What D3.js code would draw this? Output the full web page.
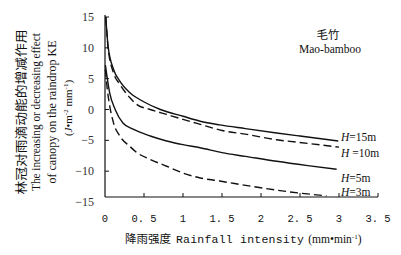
<!DOCTYPE html>
<html><head><meta charset="utf-8">
<script src="https://cdn.jsdelivr.net/npm/d3@7"></script>
<style>body{margin:0;background:#fff}svg{display:block}</style>
</head><body>
<svg id="c" width="401" height="255"></svg>
<script>
// ---- data ----
const seriesNames = ["H=15m", "H=10m", "H=5m", "H=3m"];
const labelH = ["H", "H ", "H", "H"];
const labelRest = ["=15m", "=10m", "=5m", "=3m"];
const h15x = [0.01,0.04,0.11,0.19,0.32,0.49,0.71,1.0,1.22,1.47,1.8,2.2,2.5,2.99];
const h15y = [15,10.2,6.5,4.6,2.7,1.3,0,-1.1,-1.9,-2.5,-3.1,-3.8,-4.3,-5.1];
const h10x = [0.01,0.04,0.11,0.19,0.32,0.41,0.58,0.79,1.0,1.22,1.5,1.8,2.2,2.6,3.0];
const h10y = [15,10,5.9,4.1,1.9,0.8,0,-0.8,-1.6,-2.4,-3.4,-4.0,-4.9,-5.5,-6.1];
const h5x = [0.005,0.06,0.13,0.23,0.36,0.58,0.79,1.0,1.22,1.5,1.8,2.2,2.6,2.97];
const h5y = [7.2,2.7,0,-2.2,-3.2,-4.3,-5.1,-5.7,-6.2,-7.0,-7.6,-8.4,-9.1,-9.7];
const h3x = [0.005,0.03,0.055,0.11,0.19,0.32,0.41,0.58,0.79,1.0,1.22,1.47,1.9,2.33,2.84];
const h3y = [6.5,3.2,1.0,-2.2,-4.3,-6.0,-7.0,-8.1,-9.2,-10.3,-11.1,-11.6,-12.5,-13.3,-14.0];
const xTicks = [0,0.5,1,1.5,2,2.5,3,3.5];
const xTickLabels = ["0","0. 5","1","1. 5","2","2. 5","3","3. 5"];
const yTicks = [15,10,5,0,-5,-10,-15];
const yTickLabels = ["15","10","5","0","\u22125","\u221210","\u221215"];
const seriesX = [h15x, h10x, h5x, h3x];
const seriesY = [h15y, h10y, h5y, h3y];
const dashed = [false, true, false, true];
const labelAt = [-4.5, -7.0, -11.1, -13.4];

// ---- drawing ----
const svg = d3.select("#c");
const x = d3.scaleLinear().domain([0,3.5]).range([105,378]);
const y = d3.scaleLinear().domain([-15,15]).range([202,17]);
const yAxisBottom = 197; // x axis line pixel position
const ink = "#111";

svg.append("line").attr("x1",x(0)).attr("x2",x(0)).attr("y1",15).attr("y2",yAxisBottom)
  .attr("stroke",ink).attr("stroke-width",1.2);
svg.append("line").attr("x1",x(0)).attr("x2",x(3.5)).attr("y1",yAxisBottom).attr("y2",yAxisBottom)
  .attr("stroke",ink).attr("stroke-width",1.2);
svg.selectAll(".xt").data(xTicks.slice(1)).enter().append("line")
  .attr("x1",d=>x(d)).attr("x2",d=>x(d)).attr("y1",yAxisBottom).attr("y2",yAxisBottom-4)
  .attr("stroke",ink).attr("stroke-width",1);
svg.selectAll(".xl").data(xTicks).enter().append("text")
  .attr("x",d=>x(d)).attr("y",222).attr("text-anchor","middle")
  .attr("font-family","Liberation Mono, monospace").attr("font-size",10.5).attr("fill",ink)
  .text((d,i)=>xTickLabels[i]);
svg.selectAll(".yt").data(yTicks.filter(d=>y(d)<yAxisBottom-2)).enter().append("line")
  .attr("x1",x(0)).attr("x2",x(0)+4).attr("y1",d=>y(d)).attr("y2",d=>y(d))
  .attr("stroke",ink).attr("stroke-width",1);
svg.selectAll(".yl").data(yTicks).enter().append("text")
  .attr("x",94).attr("y",d=>y(d)+4).attr("text-anchor","end")
  .attr("font-family","Liberation Serif, serif").attr("font-size",12).attr("fill","#333")
  .text((d,i)=>yTickLabels[i]);

const line = d3.line().x(d=>x(d[0])).y(d=>y(d[1])).curve(d3.curveMonotoneX);
seriesX.forEach((xs,i)=>{
  const pts = xs.map((v,j)=>[v, seriesY[i][j]]);
  svg.append("path").attr("d",line(pts)).attr("fill","none")
    .attr("stroke",ink).attr("stroke-width",1.4)
    .attr("stroke-dasharray",dashed[i]?"8,4":null);
});

seriesNames.forEach((n,i)=>{
  const t = svg.append("text").attr("x",341).attr("y",y(labelAt[i])+4)
    .attr("font-family","Liberation Serif, serif").attr("font-size",11.5).attr("fill",ink);
  t.append("tspan").attr("font-style","italic").text(labelH[i]);
  t.append("tspan").text(labelRest[i]);
});

svg.append("text").attr("x",328).attr("y",39).attr("text-anchor","middle")
  .attr("font-family","Noto Sans CJK SC, sans-serif").attr("font-size",11.5).attr("fill",ink).text("毛竹");
svg.append("text").attr("x",330).attr("y",53).attr("text-anchor","middle")
  .attr("font-family","Liberation Serif, serif").attr("font-size",11.5).attr("fill",ink).text("Mao-bamboo");

const xt = svg.append("text").attr("x",125).attr("y",243).attr("fill",ink);
xt.append("tspan").attr("font-family","Noto Sans CJK SC, sans-serif").attr("font-size",11.5).text("降雨强度");
xt.append("tspan").attr("font-family","Liberation Mono, monospace").attr("font-size",11.5).attr("dx",5)
  .attr("textLength",128).attr("lengthAdjust","spacing").text("Rainfall intensity");
xt.append("tspan").attr("font-family","Liberation Serif, serif").attr("font-size",11.5).attr("dx",4).text("(mm\u2022min");
xt.append("tspan").attr("font-family","Liberation Serif, serif").attr("font-size",7).attr("dy",-4).text("-1");
xt.append("tspan").attr("font-family","Liberation Serif, serif").attr("font-size",11.5).attr("dy",4).text(")");

const cy = 112;
function vtext(xc, str, fam, size, len){
  const t = svg.append("text").attr("transform",`translate(${xc},${cy}) rotate(-90)`)
    .attr("text-anchor","middle").attr("font-family",fam).attr("font-size",size).attr("fill",ink).text(str);
  if(len) t.attr("textLength",len).attr("lengthAdjust","spacingAndGlyphs");
  return t;
}
vtext(26, "林冠对雨滴动能的增减作用", "Noto Sans CJK SC, sans-serif", 12.5, 165);
vtext(40, "The increasing or decreasing effect", "Liberation Serif, serif", 12, 158);
vtext(56, "of canopy on the raindrop KE", "Liberation Serif, serif", 12, null);
const t4 = svg.append("text").attr("transform",`translate(72,${cy-4}) rotate(-90)`)
  .attr("text-anchor","middle").attr("font-family","Liberation Serif, serif").attr("font-size",11).attr("fill",ink);
t4.append("tspan").text("(");
t4.append("tspan").attr("font-style","italic").text("J");
t4.append("tspan").text("\u2022m");
t4.append("tspan").attr("font-size",7).attr("dy",-4).text("-2");
t4.append("tspan").attr("dy",4).text(" mm");
t4.append("tspan").attr("font-size",7).attr("dy",-4).text("-1");
t4.append("tspan").attr("dy",4).text(")");
</script>
</body></html>
